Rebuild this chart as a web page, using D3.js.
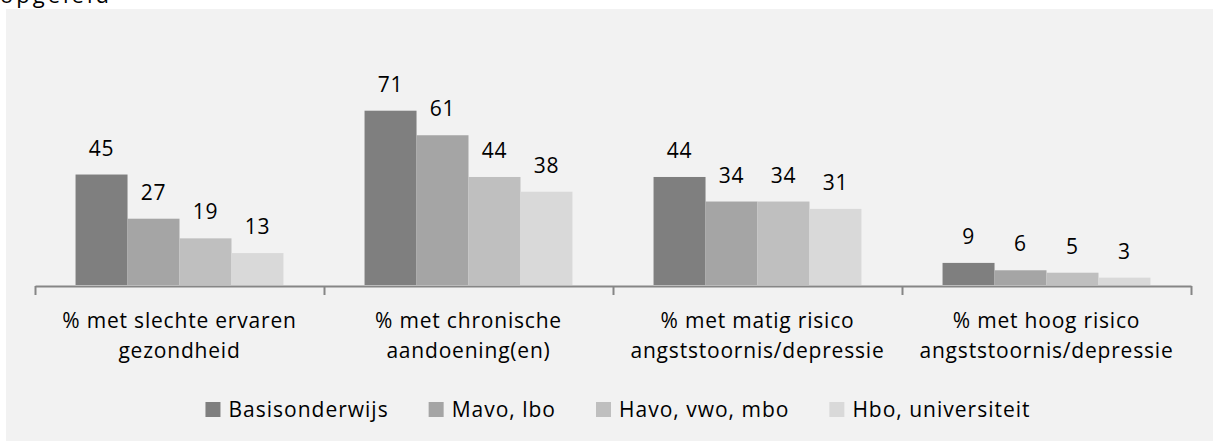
<!DOCTYPE html>
<html>
<head>
<meta charset="utf-8">
<script src="https://cdn.jsdelivr.net/npm/d3@7"></script>
<style>
  body { margin: 0; background: #ffffff; }
  svg { display: block; }
  text { font-family: "Open Sans", sans-serif; fill: #000000; }
</style>
</head>
<body>
<div id="chart"></div>
<script>
"use strict";

// data
var categories = [
  ["% met slechte ervaren", "gezondheid"],
  ["% met chronische", "aandoening(en)"],
  ["% met matig risico", "angststoornis/depressie"],
  ["% met hoog risico", "angststoornis/depressie"]
];
var seriesNames = ["Basisonderwijs", "Mavo, lbo", "Havo, vwo, mbo", "Hbo, universiteit"];
var basisValues = [45, 71, 44, 9];
var mavoValues = [27, 61, 34, 6];
var havoValues = [19, 44, 34, 5];
var hboValues = [13, 38, 31, 3];

var seriesValues = [basisValues, mavoValues, havoValues, hboValues];
var colors = ["#7f7f7f", "#a5a5a5", "#bfbfbf", "#d9d9d9"];

var W = 1213, H = 441;
var axisLeft = 35, axisRight = 1191, baseY = 285;

var svg = d3.select("#chart").append("svg")
  .attr("width", W)
  .attr("height", H);

// heading line above the chart, mostly cut off at the top edge like in the source
svg.append("text")
  .attr("x", 0)
  .attr("y", 3)
  .style("font-size", "22px")
  .style("letter-spacing", "3px")
  .text("opgeleid");

// chart panel
svg.append("rect")
  .attr("x", 6)
  .attr("y", 9)
  .attr("width", W - 6)
  .attr("height", H - 9)
  .attr("fill", "#f2f2f2");

var catIdx = d3.range(categories.length);

var x = d3.scaleBand()
  .domain(catIdx)
  .range([axisLeft, axisRight])
  .paddingInner(0)
  .paddingOuter(0);

var xSub = d3.scaleBand()
  .domain(d3.range(seriesNames.length))
  .range([0, x.bandwidth()])
  .paddingInner(0)
  .paddingOuter(0.78);

var y = d3.scaleLinear()
  .domain([0, 80])
  .range([baseY, baseY - 80 * 2.455]);

// bars
var groups = svg.append("g").attr("id", "bars")
  .selectAll("g")
  .data(seriesValues)
  .join("g")
    .attr("fill", (d, i) => colors[i]);

groups.each(function(vals, si) {
  d3.select(this).selectAll("rect")
    .data(vals)
    .join("rect")
      .attr("x", (d, ci) => x(ci) + xSub(si))
      .attr("y", d => y(d))
      .attr("width", xSub.bandwidth())
      .attr("height", d => y(0) - y(d));
});

// value labels
var labels = svg.append("g").attr("id", "values");
seriesValues.forEach(function(vals, si) {
  labels.selectAll(null)
    .data(vals)
    .join("text")
      .attr("x", (d, ci) => x(ci) + xSub(si) + xSub.bandwidth() / 2)
      .attr("y", d => y(d) - 19)
      .attr("text-anchor", "middle")
      .style("font-size", "21px")
      .style("letter-spacing", "0.8px")
      .text(d => d);
});

// x axis, ticks on the category boundaries
var xEdges = d3.scaleLinear()
  .domain([0, categories.length])
  .range([axisLeft, axisRight]);

var xAxis = d3.axisBottom(xEdges)
  .tickValues(d3.range(categories.length + 1))
  .tickSize(9)
  .tickSizeOuter(0)
  .tickFormat("");

var axisG = svg.append("g")
  .attr("transform", "translate(0," + (baseY + 1) + ")")
  .call(xAxis);
axisG.select(".domain").attr("stroke", "#868686").attr("stroke-width", 2);
axisG.selectAll(".tick line").attr("stroke", "#868686").attr("stroke-width", 2);

// category labels
var catText = svg.append("g").attr("id", "categories")
  .selectAll("text")
  .data(categories)
  .join("text")
    .attr("text-anchor", "middle")
    .style("font-size", "21px")
    .style("letter-spacing", "0.8px");

catText.selectAll("tspan")
  .data((d, i) => d.map(line => ({ line: line, i: i })))
  .join("tspan")
    .attr("x", d => x(d.i) + x.bandwidth() / 2)
    .attr("y", (d, j) => 328 + j * 30)
    .text(d => d.line);

// legend
var legend = svg.append("g").attr("id", "legend");
var items = legend.selectAll("g")
  .data(seriesNames)
  .join("g");

items.append("rect")
  .attr("width", 15)
  .attr("height", 15)
  .attr("y", 402)
  .attr("fill", (d, i) => colors[i]);

items.append("text")
  .attr("x", 23)
  .attr("y", 417)
  .style("font-size", "21px")
  .style("letter-spacing", "1px")
  .text(d => d);

var gap = 40;
var offsets = [], pos = 0;
items.each(function(d) {
  offsets.push(pos);
  var tw = d3.select(this).select("text").node().getComputedTextLength();
  pos += 23 + tw + gap;
});
var totalW = pos - gap;
var startX = 618 - totalW / 2;
items.attr("transform", (d, i) => "translate(" + (startX + offsets[i]) + ",0)");
</script>
</body>
</html>
